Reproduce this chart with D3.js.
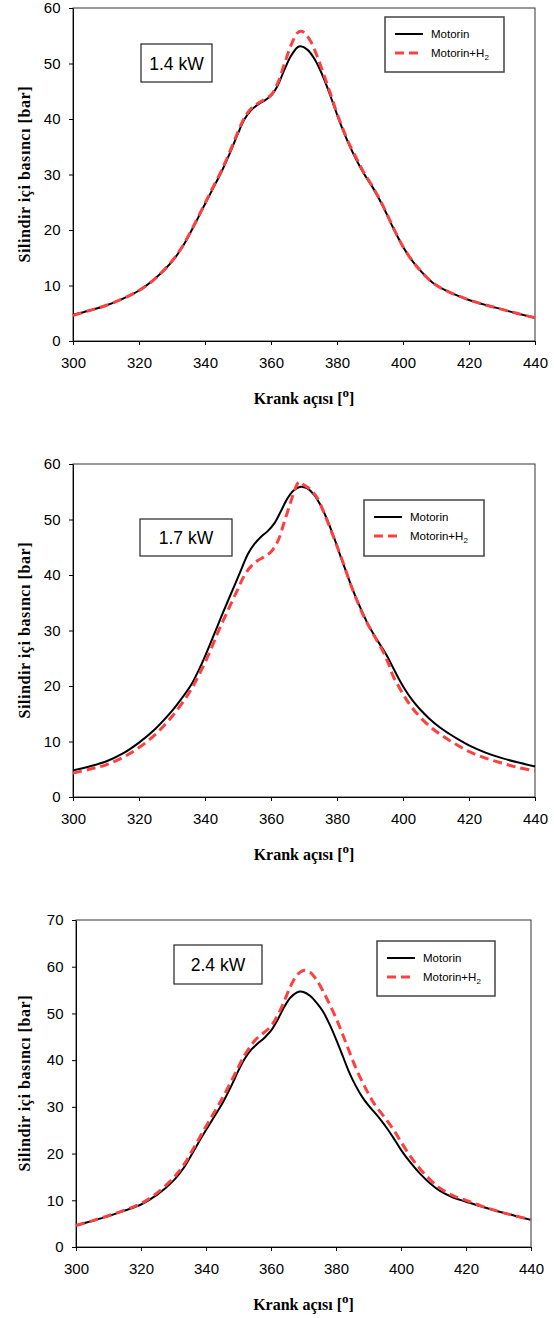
<!DOCTYPE html>
<html><head><meta charset="utf-8">
<script src="https://cdn.jsdelivr.net/npm/d3@7"></script>
<style>body{margin:0;background:#fff}svg{display:block}</style>
</head><body>
<svg id="chart" width="554" height="1318"></svg>
<script>
// ---- data ----
const xTicks = [300, 320, 340, 360, 380, 400, 420, 440];
const yTicks60 = [0, 10, 20, 30, 40, 50, 60];
const yTicks70 = [0, 10, 20, 30, 40, 50, 60, 70];
const panelLabels = ["1.4 kW", "1.7 kW", "2.4 kW"];
const seriesNames = ["Motorin", "Motorin+H"];
const xTitle = "Krank açısı [";
const yTitle = "Silindir içi basıncı [bar]";

// [crank angle, pressure bar]
const p1Motorin = [[300,4.7],[305,5.5],[310,6.4],[315,7.6],[320,9.1],[325,11.3],[330,14.3],[333,16.8],[336,20],[339,23.5],[342,27],[345,30.5],[348,34.5],[350,37.4],[352,40],[354,41.6],[356,42.6],[358,43.3],[360,44.2],[362,46],[364,48.8],[366,51.3],[368,52.9],[369,53.1],[371,52.5],[373,51],[375,48.7],[377,45.8],[379,42.5],[381,39.2],[383,36.3],[385,33.7],[388,30.3],[391,27.5],[394,24.2],[397,20.4],[400,17],[403,14.3],[406,12.2],[409,10.5],[412,9.4],[416,8.3],[420,7.4],[425,6.5],[430,5.7],[435,4.9],[440,4.2]];
const p1H2 = [[300,4.6],[305,5.5],[310,6.4],[315,7.6],[320,9.1],[325,11.3],[330,14.4],[333,16.9],[336,20.1],[339,23.6],[342,27.2],[345,30.7],[348,34.8],[350,37.7],[352,40.3],[354,41.9],[356,42.8],[358,43.5],[360,44.3],[362,46.4],[364,49.8],[366,53.2],[368,55.5],[369,55.8],[370,55.6],[372,54],[374,51.3],[376,48],[378,44.6],[380,41],[382,37.9],[384,35.1],[386,32.8],[388,30.5],[391,27.6],[394,24.3],[397,20.5],[400,17],[403,14.3],[406,12.2],[409,10.5],[412,9.4],[416,8.3],[420,7.4],[425,6.5],[430,5.7],[435,4.9],[440,4.2]];

const p2Motorin = [[300,4.8],[305,5.5],[310,6.4],[315,7.8],[320,9.8],[325,12.3],[330,15.5],[333,17.8],[336,20.4],[339,24],[342,28.2],[345,32.6],[348,36.8],[351,41],[353,43.8],[355,45.6],[357,46.9],[359,47.9],[361,49.3],[363,51.5],[365,53.8],[367,55.3],[369,55.9],[371,55.6],[373,54.5],[375,52.6],[377,50],[379,46.9],[381,43.5],[383,40.2],[385,37],[387,34.2],[389,31.6],[391,29.4],[393,27.5],[395,25.6],[397,23.3],[399,21],[401,19],[403,17.3],[405,15.9],[408,14.1],[411,12.6],[414,11.4],[417,10.3],[420,9.3],[425,8],[430,7],[435,6.2],[440,5.5]];
const p2H2 = [[300,4.3],[305,5],[310,5.8],[315,7.1],[320,8.9],[325,11.3],[330,14.5],[335,18.6],[338,21.8],[341,25.5],[344,29.8],[347,33.7],[350,37.5],[352,40],[354,41.6],[356,42.6],[358,43.3],[360,44.2],[362,46],[364,49.5],[366,53.2],[367.5,55.8],[368.5,56.8],[370,56.2],[372,55.4],[374,53.9],[376,51.3],[378,48.3],[380,45.2],[382,42],[384,38.5],[386,35.5],[388,32.7],[390,30.4],[392,28.3],[394,26.2],[395.5,24.2],[397,21.8],[399,19.6],[401,17.6],[403,15.9],[406,13.9],[409,12.3],[412,11],[416,9.5],[420,8.2],[425,7],[430,6.1],[435,5.3],[440,4.7]];

const p3Motorin = [[300,4.6],[305,5.6],[310,6.6],[315,7.8],[320,9.1],[325,11.2],[330,14.2],[333,16.8],[336,20.3],[339,23.9],[342,27.3],[345,30.7],[348,34.8],[350,37.8],[352,40.4],[354,42.3],[356,43.6],[358,44.8],[360,46.3],[362,48.6],[364,51.3],[366,53.4],[368,54.5],[369,54.7],[370,54.6],[372,53.8],[374,52.3],[376,50.4],[378,47.7],[380,44.5],[382,41],[384,37.5],[386,34.6],[388,32.2],[390,30.3],[392,28.7],[394,27],[396,25.1],[398,23],[400,20.8],[403,18],[406,15.6],[409,13.6],[412,12],[416,10.6],[420,9.7],[425,8.6],[430,7.6],[435,6.7],[440,5.8]];
const p3H2 = [[300,4.6],[305,5.6],[310,6.7],[315,7.9],[320,9.3],[325,11.6],[330,14.8],[333,17.4],[336,20.9],[339,24.6],[342,28.2],[345,31.8],[348,35.8],[350,38.6],[352,41.2],[354,43.3],[356,44.9],[358,46],[360,47.3],[362,49.5],[364,52.5],[366,55.8],[368,58.2],[370,59.2],[372,58.8],[374,57.2],[376,54.8],[378,52],[380,49],[382,45.6],[384,42],[386,38.5],[388,35.5],[390,32.8],[392,30.4],[394,28.6],[396,26.8],[398,24.8],[400,22.5],[403,19.3],[406,16.6],[409,14.4],[412,12.6],[416,11],[420,10],[425,8.7],[430,7.6],[435,6.7],[440,5.8]];

const panels = [
  {motorin: p1Motorin, h2: p1H2, yMax: 60, yTicks: yTicks60, label: panelLabels[0],
   box: {l:73, r:535, t:8, b:341}, leg: {x:385, y:17, w:119, h:55}, lab: {x:141, y:44, w:71, h:38}},
  {motorin: p2Motorin, h2: p2H2, yMax: 60, yTicks: yTicks60, label: panelLabels[1],
   box: {l:73, r:535, t:464, b:797}, leg: {x:364, y:500, w:120, h:56}, lab: {x:140, y:519, w:92, h:37}},
  {motorin: p3Motorin, h2: p3H2, yMax: 70, yTicks: yTicks70, label: panelLabels[2],
   box: {l:76, r:531, t:920, b:1247}, leg: {x:377, y:941, w:118, h:55}, lab: {x:174, y:945, w:88, h:39}}
];

const svg = d3.select("#chart");
const sans = "'Liberation Sans', Arial, sans-serif";
const serif = "'Liberation Serif', 'Times New Roman', serif";
const red = "#ff4040";

panels.forEach(p => {
  const b = p.box;
  const x = d3.scaleLinear().domain([300, 440]).range([b.l, b.r]);
  const y = d3.scaleLinear().domain([0, p.yMax]).range([b.b, b.t]);
  const g = svg.append("g");

  g.append("rect").attr("x", b.l).attr("y", b.t).attr("width", b.r - b.l).attr("height", b.b - b.t)
    .attr("fill", "none").attr("stroke", "#333").attr("stroke-width", 1);

  const xa = g.append("g").attr("transform", `translate(0,${b.b})`)
    .call(d3.axisBottom(x).tickValues(xTicks).tickSize(4).tickSizeOuter(0).tickPadding(12));
  const ya = g.append("g").attr("transform", `translate(${b.l},0)`)
    .call(d3.axisLeft(y).tickValues(p.yTicks).tickSize(4).tickSizeOuter(0).tickPadding(8.5));
  [xa, ya].forEach(a => {
    a.selectAll("text").attr("font-family", sans).attr("font-size", 15).attr("fill", "#000");
    a.selectAll("line,path").attr("stroke", "#000");
  });

  const xt = g.append("text").attr("x", (b.l + b.r) / 2).attr("y", b.b + 63)
    .attr("text-anchor", "middle").attr("font-family", serif).attr("font-weight", "bold")
    .attr("font-size", 16).text(xTitle);
  xt.append("tspan").attr("dy", -7).attr("font-size", 13).text("o");
  xt.append("tspan").attr("dy", 7).text("]");

  g.append("text").attr("transform", `translate(30,${(b.t + b.b) / 2}) rotate(-90)`)
    .attr("text-anchor", "middle").attr("font-family", serif).attr("font-weight", "bold")
    .attr("font-size", 16).attr("textLength", 176).attr("lengthAdjust", "spacing").text(yTitle);

  const line = d3.line().x(d => x(d[0])).y(d => y(d[1])).curve(d3.curveCatmullRom.alpha(0.5));
  g.append("path").datum(p.motorin).attr("d", line).attr("fill", "none")
    .attr("stroke", "#000").attr("stroke-width", 2);
  g.append("path").datum(p.h2).attr("d", line).attr("fill", "none")
    .attr("stroke", red).attr("stroke-width", 3).attr("stroke-dasharray", "9,5");

  const lb = p.lab;
  g.append("rect").attr("x", lb.x).attr("y", lb.y).attr("width", lb.w).attr("height", lb.h)
    .attr("fill", "#fff").attr("stroke", "#222").attr("stroke-width", 1.2);
  g.append("text").attr("x", lb.x + lb.w / 2).attr("y", lb.y + lb.h / 2 + 6.5)
    .attr("text-anchor", "middle").attr("font-family", sans).attr("font-size", 17.5).text(p.label);

  const lg = p.leg;
  g.append("rect").attr("x", lg.x).attr("y", lg.y).attr("width", lg.w).attr("height", lg.h)
    .attr("fill", "#fff").attr("stroke", "#444").attr("stroke-width", 1.5);
  const ly1 = lg.y + 17, ly2 = lg.y + 36;
  g.append("line").attr("x1", lg.x + 10).attr("x2", lg.x + 38).attr("y1", ly1).attr("y2", ly1)
    .attr("stroke", "#000").attr("stroke-width", 2);
  g.append("line").attr("x1", lg.x + 10).attr("x2", lg.x + 38).attr("y1", ly2).attr("y2", ly2)
    .attr("stroke", red).attr("stroke-width", 3).attr("stroke-dasharray", "9,5");
  g.append("text").attr("x", lg.x + 46).attr("y", ly1 + 4).attr("font-family", sans)
    .attr("font-size", 11.5).text(seriesNames[0]);
  const t2 = g.append("text").attr("x", lg.x + 46).attr("y", ly2 + 4).attr("font-family", sans)
    .attr("font-size", 11.5).text(seriesNames[1]);
  t2.append("tspan").attr("dy", 3).attr("font-size", 8).text("2");
});
</script>
</body></html>
